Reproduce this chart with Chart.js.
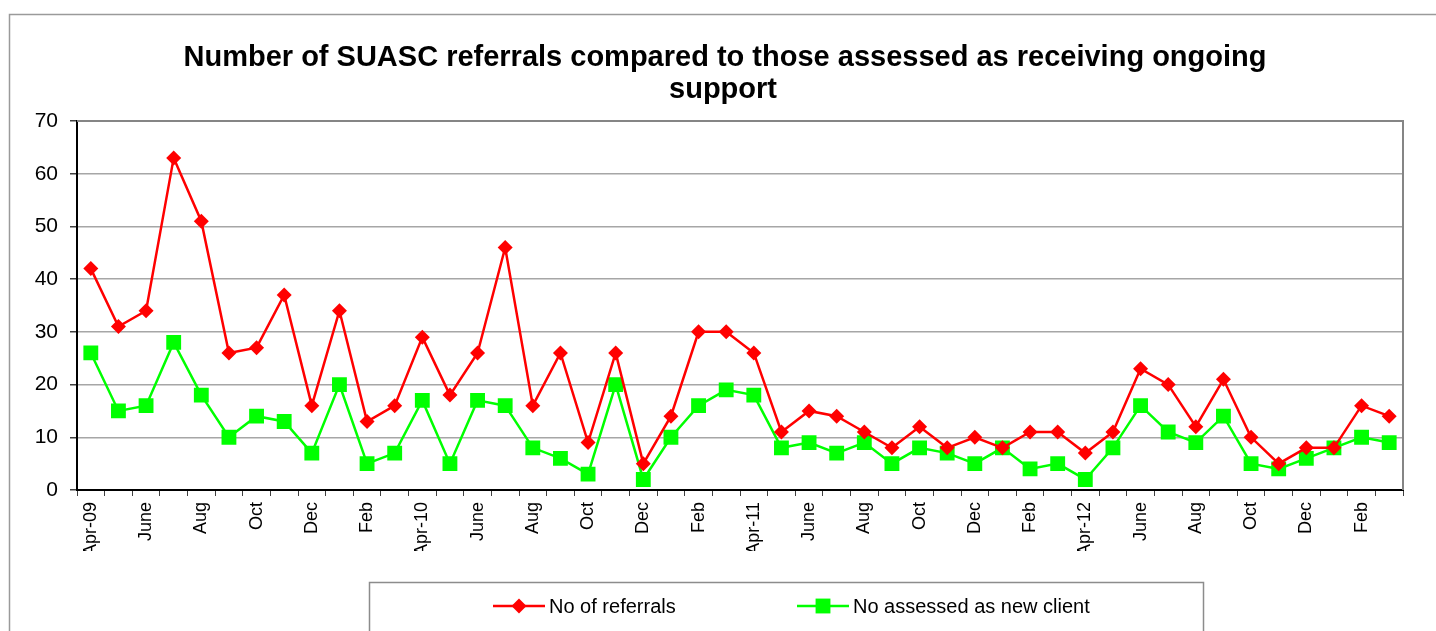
<!DOCTYPE html>
<html>
<head>
<meta charset="utf-8">
<script src="https://cdn.jsdelivr.net/npm/chart.js@4"></script>
<style>
  html, body { margin: 0; padding: 0; background: #fff; }
  #wrap { width: 1436px; height: 631px; position: relative; }
</style>
</head>
<body>
<div id="wrap"><canvas id="chartCanvas" width="1436" height="631"></canvas></div>
<script>
"use strict";

// months Apr-09 .. Mar-13, only every other one is labelled on the axis
const months = [
    'Apr-09', 'May', 'June', 'July', 'Aug', 'Sept', 'Oct', 'Nov', 'Dec', 'Jan', 'Feb', 'Mar',
    'Apr-10', 'May', 'June', 'July', 'Aug', 'Sept', 'Oct', 'Nov', 'Dec', 'Jan', 'Feb', 'Mar',
    'Apr-11', 'May', 'June', 'July', 'Aug', 'Sept', 'Oct', 'Nov', 'Dec', 'Jan', 'Feb', 'Mar',
    'Apr-12', 'May', 'June', 'July', 'Aug', 'Sept', 'Oct', 'Nov', 'Dec', 'Jan', 'Feb', 'Mar'
];
const referrals = [
    42, 31, 34, 63, 51, 26, 27, 37, 16, 34, 13, 16,
    29, 18, 26, 46, 16, 26, 9, 26, 5, 14, 30, 30,
    26, 11, 15, 14, 11, 8, 12, 8, 10, 8, 11, 11,
    7, 11, 23, 20, 12, 21, 10, 5, 8, 8, 16, 14
];
const newClients = [
    26, 15, 16, 28, 18, 10, 14, 13, 7, 20, 5, 7,
    17, 5, 17, 16, 8, 6, 3, 20, 2, 10, 16, 19,
    18, 8, 9, 7, 9, 5, 8, 7, 5, 8, 4, 5,
    2, 8, 16, 11, 9, 14, 5, 4, 6, 8, 10, 9
];
const titleLines = ['Number of SUASC referrals compared to those assessed as receiving ongoing', 'support'];

const FONT = '"Liberation Sans", Arial, sans-serif';

// frame, title, plot border and legend box (Excel style)
const decor = {
    id: 'decor',
    beforeDraw(chart) {
        const ctx = chart.ctx;
        ctx.save();
        ctx.fillStyle = '#fff';
        ctx.fillRect(0, 0, chart.width, chart.height);
        ctx.strokeStyle = '#9a9a9a';
        ctx.lineWidth = 1.5;
        ctx.beginPath();
        ctx.moveTo(9.5, chart.height);
        ctx.lineTo(9.5, 14.5);
        ctx.lineTo(chart.width, 14.5);
        ctx.stroke();

        ctx.fillStyle = '#000';
        ctx.font = 'bold 29px ' + FONT;
        ctx.textAlign = 'center';
        ctx.textBaseline = 'alphabetic';
        ctx.fillText(titleLines[0], 725, 66);
        ctx.fillText(titleLines[1], 723, 98);
        ctx.restore();
    },
    afterDraw(chart) {
        const ctx = chart.ctx;
        const a = chart.chartArea;
        ctx.save();
        ctx.strokeStyle = '#858585';
        ctx.lineWidth = 2;
        ctx.beginPath();
        ctx.moveTo(a.left, a.top);
        ctx.lineTo(a.right, a.top);
        ctx.lineTo(a.right, a.bottom);
        ctx.stroke();

        // legend
        ctx.strokeStyle = '#8c8c8c';
        ctx.lineWidth = 1.5;
        ctx.strokeRect(369.5, 582.5, 834, 80);
        const items = [[493, chart.data.datasets[0]], [797, chart.data.datasets[1]]];
        ctx.font = '20px ' + FONT;
        ctx.textAlign = 'left';
        ctx.textBaseline = 'middle';
        items.forEach(([x, ds]) => {
            const y = 606;
            ctx.strokeStyle = ds.borderColor;
            ctx.lineWidth = 2.5;
            ctx.beginPath();
            ctx.moveTo(x, y);
            ctx.lineTo(x + 52, y);
            ctx.stroke();
            ctx.fillStyle = ds.pointBackgroundColor;
            Chart.helpers.drawPoint(ctx, {
                pointStyle: ds.pointStyle,
                radius: ds.pointRadius,
                rotation: 0,
                borderWidth: 0
            }, x + 26, y);
            ctx.fillStyle = '#000';
            ctx.fillText(ds.label, x + 56, y + 1);
        });
        ctx.restore();
    }
};

const ctx = document.getElementById('chartCanvas').getContext('2d');
const chart = new Chart(ctx, {
    type: 'line',
    data: {
        labels: months,
        datasets: [{
            label: 'No of referrals',
            data: referrals,
            borderColor: '#ff0000',
            backgroundColor: '#ff0000',
            pointBackgroundColor: '#ff0000',
            pointBorderColor: '#ff0000',
            pointBorderWidth: 0,
            pointStyle: 'rectRot',
            pointRadius: 7.5,
            borderWidth: 2.5,
            tension: 0
        }, {
            label: 'No assessed as new client',
            data: newClients,
            borderColor: '#00ff00',
            backgroundColor: '#00ff00',
            pointBackgroundColor: '#00ff00',
            pointBorderColor: '#00ff00',
            pointBorderWidth: 0,
            pointStyle: 'rect',
            pointRadius: 10.5,
            borderWidth: 2.5,
            tension: 0
        }]
    },
    options: {
        responsive: false,
        animation: false,
        devicePixelRatio: 1,
        layout: { padding: { top: 121, left: 0, right: 33, bottom: 80 } },
        plugins: {
            legend: { display: false },
            title: { display: false },
            tooltip: { enabled: false }
        },
        scales: {
            x: {
                offset: true,
                afterFit: (s) => { s.height = 61; },
                grid: {
                    offset: true,
                    drawOnChartArea: false,
                    tickLength: 6,
                    tickColor: '#404040'
                },
                border: { color: '#000', width: 2 },
                ticks: {
                    autoSkip: false,
                    minRotation: 90,
                    maxRotation: 90,
                    padding: 6,
                    color: '#000',
                    font: { family: FONT, size: 18 },
                    callback: function (v, i) { return i % 2 === 0 ? this.getLabelForValue(v) : ''; }
                }
            },
            y: {
                min: 0,
                max: 70,
                afterFit: (s) => { s.width = 77; },
                grid: {
                    color: '#a6a6a6',
                    lineWidth: 1.5,
                    tickLength: 7,
                    tickColor: '#404040'
                },
                border: { color: '#000', width: 2 },
                ticks: {
                    stepSize: 10,
                    padding: 12,
                    color: '#000',
                    font: { family: FONT, size: 21 }
                }
            }
        }
    },
    plugins: [decor]
});
</script>
</body>
</html>
